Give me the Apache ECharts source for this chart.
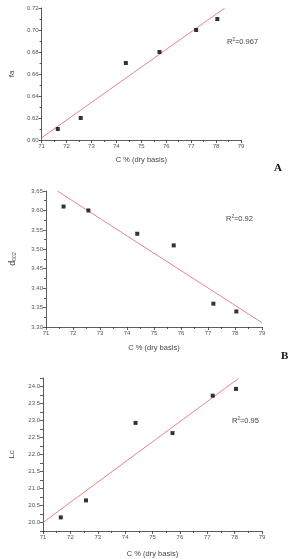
<!DOCTYPE html>
<html>
<head>
<meta charset="utf-8">
<script src="https://cdn.jsdelivr.net/npm/echarts@6/dist/echarts.min.js"></script>
<style>
  html, body { margin: 0; padding: 0; background: #fff; }
  #chart { width: 296px; height: 559px; }
</style>
</head>
<body>
<div id="chart"></div>
<script>
// carbon content (x) shared by all three panels
const carbon = [71.65, 72.57, 74.38, 75.73, 77.2, 78.05];
const fa = [0.61, 0.62, 0.67, 0.68, 0.70, 0.71];
const d002 = [3.61, 3.60, 3.54, 3.51, 3.36, 3.34];
const lc = [20.15, 20.65, 22.93, 22.63, 23.73, 23.93];

// fitted line end points
const fitAx = [71, 78.35], fitAy = [0.602, 0.72];
const fitBx = [71.42, 79], fitBy = [3.65, 3.311];
const fitCx = [71, 78.14], fitCy = [20.0, 24.235];

const xTicks = [71, 72, 73, 74, 75, 76, 77, 78, 79];
const r2Values = ['0.967', '0.92', '0.95'];
const panelLabels = ['A', 'B', 'C'];

const chart = echarts.init(document.getElementById('chart'));

const axisCol = '#333';
const labelCol = '#555';
const lineCol = '#e0666e';
const font = 'Liberation Sans';

const zip = (xs, ys) => xs.map((x, i) => [x, ys[i]]);

function xAxis(idx, gap) {
  return {
    type: 'value', gridIndex: idx, min: xTicks[0], max: xTicks[xTicks.length - 1], interval: 1,
    name: 'C % (dry basis)', nameLocation: 'middle', nameGap: gap,
    nameTextStyle: { fontSize: 7.5, color: '#444', fontFamily: font },
    axisLine: { lineStyle: { color: axisCol, width: 0.8 } },
    axisTick: { length: 3, lineStyle: { color: axisCol, width: 0.8 } },
    minorTick: { show: true, splitNumber: 2, length: 2, lineStyle: { color: axisCol, width: 0.8 } },
    axisLabel: { fontSize: 6, color: labelCol, margin: 3, fontFamily: font },
    splitLine: { show: false }
  };
}

function yAxis(idx, opts) {
  return Object.assign({
    type: 'value', gridIndex: idx,
    nameLocation: 'middle', nameRotate: 90,
    nameTextStyle: { fontSize: 8, color: '#444', fontFamily: font },
    axisLine: { show: true, lineStyle: { color: axisCol, width: 0.8 } },
    axisTick: { show: true, length: 3, lineStyle: { color: axisCol, width: 0.8 } },
    minorTick: { show: true, splitNumber: 2, length: 2, lineStyle: { color: axisCol, width: 0.8 } },
    splitLine: { show: false }
  }, opts);
}

function scatter(idx, ys) {
  return {
    type: 'scatter', xAxisIndex: idx, yAxisIndex: idx,
    data: zip(carbon, ys), symbol: 'rect', symbolSize: 4,
    itemStyle: { color: '#000' }, z: 3
  };
}

function fit(idx, xs, ys) {
  return {
    type: 'line', xAxisIndex: idx, yAxisIndex: idx,
    data: zip(xs, ys), showSymbol: false,
    lineStyle: { color: lineCol, width: 0.8 }, z: 2
  };
}

function r2Text(left, top, val) {
  return {
    type: 'text', left: left, top: top,
    style: {
      text: '{n|R}{s|2}{n|=' + val + '}',
      rich: {
        n: { fontSize: 7.5, fill: '#444', fontFamily: font },
        s: { fontSize: 4.5, fill: '#444', fontFamily: font, verticalAlign: 'top', padding: [0, 0, 4, 0] }
      }
    }
  };
}

const option = {
  animation: false,
  grid: [
    { left: 41, top: 8, width: 200, height: 132 },
    { left: 39, top: 191, width: 223, height: 136 },
    { left: 38, top: 378, width: 224, height: 153 }
  ],
  xAxis: [xAxis(0, 16), xAxis(1, 17), xAxis(2, 19)],
  yAxis: [
    yAxis(0, {
      min: 0.60, max: 0.72, interval: 0.02, name: 'fa', nameGap: 23,
      axisLabel: { fontSize: 6, color: labelCol, margin: 3, fontFamily: font,
        formatter: v => v.toFixed(2) }
    }),
    yAxis(1, {
      min: 3.30, max: 3.65, interval: 0.05, nameGap: 29,
      name: '{d|d}{s|002}',
      nameTextStyle: { rich: {
        d: { fontSize: 9, color: '#444', fontFamily: font },
        s: { fontSize: 5, color: '#444', fontFamily: font, verticalAlign: 'bottom', padding: [4, 0, 0, 0] }
      } },
      axisLabel: { fontSize: 6, color: labelCol, margin: 3, fontFamily: font,
        formatter: v => v.toFixed(2) }
    }),
    yAxis(2, {
      min: 19.75, max: 24.25, interval: 0.25, name: 'Lc', nameGap: 27,
      minorTick: { show: false },
      axisLabel: { fontSize: 6, color: labelCol, margin: 3, fontFamily: font,
        formatter: v => (Math.abs(v * 2 - Math.round(v * 2)) < 1e-6 ? v.toFixed(1) : '') }
    })
  ],
  series: [
    fit(0, fitAx, fitAy), scatter(0, fa),
    fit(1, fitBx, fitBy), scatter(1, d002),
    fit(2, fitCx, fitCy), scatter(2, lc)
  ],
  graphic: [
    r2Text(227, 37, r2Values[0]),
    r2Text(226, 214, r2Values[1]),
    r2Text(232, 416, r2Values[2]),
    { type: 'text', left: 274, top: 163, style: { text: panelLabels[0], fontSize: 11, fontWeight: 'bold', fill: '#111', fontFamily: 'Liberation Serif' } },
    { type: 'text', left: 281, top: 351, style: { text: panelLabels[1], fontSize: 11, fontWeight: 'bold', fill: '#111', fontFamily: 'Liberation Serif' } }
  ]
};

chart.setOption(option);
</script>
</body>
</html>
